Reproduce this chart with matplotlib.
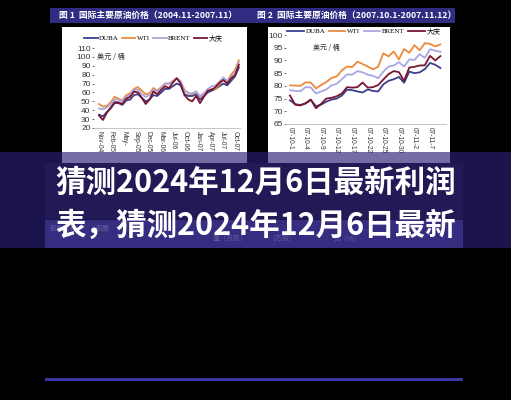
import numpy as np
import matplotlib
matplotlib.use("Agg")
import matplotlib.pyplot as plt
from matplotlib.patches import Rectangle

# ---------------- data ----------------
# Figure 1: monthly crude prices, Nov 2004 - Nov 2007 (USD / barrel)
months1 = list(range(37))
wti1 = [47, 44, 45, 49, 55, 53, 51, 57, 59, 64, 66, 62, 58, 59, 65, 62, 66, 70, 70,
        73, 76, 72, 63, 59, 58, 61, 55, 59, 62, 64, 64, 69, 75, 72, 80, 85, 96]
brent1 = [42, 41, 43, 47, 52, 52, 50, 55, 57, 63, 63, 58, 55, 57, 63, 61, 65, 70, 70,
          72, 76, 73, 62, 59, 59, 61, 56, 59, 64, 67, 68, 72, 77, 73, 77, 82, 93]
dubai1 = [35, 33, 38, 42, 48, 48, 46, 51, 52, 57, 58, 54, 50, 52, 57, 56, 60, 64, 64,
          67, 70, 68, 58, 56, 56, 58, 52, 56, 60, 62, 64, 67, 70, 68, 73, 78, 88]
daqing1 = [34, 29, 37, 43, 49, 49, 47, 53, 55, 61, 60, 54, 47, 52, 61, 58, 63, 67, 65,
           71, 76, 70, 57, 52, 50, 56, 48, 55, 62, 63, 66, 71, 74, 70, 76, 79, 91]
xlabels1 = ["Nov-04", "Feb-05", "May-", "Sep-05", "Dec-05", "Mar-06", "Jul-06",
            "Oct-06", "Jan-07", "Apr-07", "Jul-07", "Oct-07"]

# Figure 2: daily crude prices, 2007-10-01 onward (trading days)
days2 = list(range(30))
wti2 = [80.2, 80.1, 80.0, 81.4, 81.3, 79.0, 80.3, 81.5, 83.1, 83.7, 86.1, 87.6, 87.4,
        89.5, 88.6, 87.6, 86.5, 87.5, 92.8, 91.6, 93.5, 90.4, 94.5, 93.0, 96.0, 94.0,
        96.8, 96.5, 95.5, 96.3]
brent2 = [78.3, 78.0, 77.9, 79.5, 79.4, 77.0, 77.8, 78.6, 80.2, 80.8, 82.6, 84.5, 84.4,
          85.8, 85.3, 84.4, 84.0, 83.0, 85.6, 87.6, 88.0, 89.3, 87.6, 90.4, 90.2, 92.5,
          91.0, 94.4, 93.8, 93.4]
dubai2 = [74.3, 72.8, 72.5, 73.0, 74.5, 72.0, 72.6, 73.8, 74.6, 75.0, 76.2, 78.5, 78.3,
          77.8, 77.4, 78.6, 78.0, 77.8, 80.6, 82.0, 82.6, 83.5, 81.2, 85.6, 85.0, 85.3,
          86.6, 89.0, 88.3, 87.0]
daqing2 = [76.2, 72.6, 72.3, 73.2, 74.6, 71.2, 72.9, 75.0, 75.3, 75.9, 77.0, 79.5, 79.3,
           79.5, 81.3, 79.3, 79.5, 80.3, 82.5, 84.6, 85.8, 85.4, 82.0, 87.2, 87.5, 88.0,
           88.1, 91.8, 90.0, 91.7]
xlabels2 = ["07-10-1", "07-10-4", "07-10-9", "07-10-12", "07-10-17", "07-10-22",
            "07-10-25", "07-10-30", "07-11-2", "07-11-7"]

series_names = ["DUBA", "WTI", "BRENT", "大庆"]
series_colors = ["#3c3f8c", "#ec8a3c", "#aaa6e4", "#7a1630"]

title_text = "猜测2024年12月6日最新利润\n表，猜测2024年12月6日最新"
header1 = "图 1  国际主要原油价格（2004.11-2007.11）"
header2 = "图 2  国际主要原油价格（2007.10.1-2007.11.12）"
unit_text = "美元 / 桶"

# ---------------- layout helpers ----------------
W, H = 511, 400
CJK = ["Noto Sans CJK SC", "DejaVu Sans"]
SANS = ["Liberation Sans", "Noto Sans CJK SC"]
SERIF = ["Liberation Serif", "Noto Sans CJK SC"]

fig = plt.figure(figsize=(W / 100, H / 100), dpi=100)
fig.patch.set_facecolor("black")


def box(x0, y0, x1, y1):
    """pixel box (origin top-left) -> figure-fraction rect"""
    return [x0 / W, 1 - y1 / H, (x1 - x0) / W, (y1 - y0) / H]


bg = fig.add_axes([0, 0, 1, 1], zorder=0)
bg.set_xlim(0, W)
bg.set_ylim(H, 0)
bg.axis("off")

# document pieces: header bar, white chart panels, table strip, bottom rule
bg.add_patch(Rectangle((50, 8), 405, 15, color="#2f2c82", lw=0))
bg.add_patch(Rectangle((62, 27), 185, 136, color="white", lw=0))
bg.add_patch(Rectangle((268, 27), 182, 136, color="white", lw=0))
bg.add_patch(Rectangle((45, 163), 418, 56, color="#10101c", lw=0))
bg.add_patch(Rectangle((45, 220), 418, 28, color="#4a4898", lw=0))
bg.add_patch(Rectangle((45, 378), 418, 2.5, color="#3a36a2", lw=0))

bg.text(59, 15.5, header1, color="white", fontsize=6.3, fontweight="bold",
        family=CJK, va="center", ha="left")
bg.text(257, 15.5, header2, color="white", fontsize=6.3, fontweight="bold",
        family=CJK, va="center", ha="left")

# faint table header row lying beneath the title band
for s, x, y in [("股东名称", 50, 229), ("股票", 96, 229), ("量（万股）", 213, 238),
                ("（万股）", 268, 238), ("比（%）", 333, 238)]:
    bg.text(x, y, s, color="#c8c4e8", fontsize=5, family=CJK, va="center", ha="left")


def style_axis(ax, ylo, yhi, ystep, ticks, labels):
    ax.set_facecolor("none")
    ax.set_ylim(ylo, yhi)
    ax.set_yticks(np.arange(ylo, yhi + 0.1, ystep))
    ax.set_xticks(ticks)
    ax.set_xticklabels(labels, rotation=270, fontsize=4.8, family=SANS, color="#333333")
    ax.tick_params(axis="y", labelsize=6, colors="#333333", length=1.5, width=0.5,
                   pad=1)
    ax.tick_params(axis="x", length=0, pad=2)
    for lab in ax.get_yticklabels():
        lab.set_family(SANS)
    for sp in ("top", "right", "left"):
        ax.spines[sp].set_visible(False)
    ax.spines["bottom"].set_color("#bbbbbb")
    ax.spines["bottom"].set_linewidth(0.6)


# ---------------- chart 1 ----------------
ax1 = fig.add_axes(box(94, 48, 240, 128), zorder=2)
for vals, name, col in zip([dubai1, wti1, brent1, daqing1], series_names, series_colors):
    ax1.plot(months1, vals, color=col, lw=1.3, label=name)
ax1.set_xlim(-1.3, 36.3)
style_axis(ax1, 20, 110, 10, np.linspace(0, 35, len(xlabels1)), xlabels1)
ax1.legend(loc="center left", bbox_to_anchor=(-0.085, 1.125), ncol=4, frameon=False,
           handlelength=1.9, handletextpad=0.25, columnspacing=0.45,
           borderaxespad=0, prop={"family": SERIF, "size": 5})
bg.text(97, 57, unit_text, fontsize=5.2, family=CJK, color="#333333", va="center")

# ---------------- chart 2 ----------------
ax2 = fig.add_axes(box(286, 35, 446, 124), zorder=2)
for vals, name, col in zip([dubai2, wti2, brent2, daqing2], series_names, series_colors):
    ax2.plot(days2, vals, color=col, lw=1.3, label=name)
ax2.set_xlim(-0.77, 30.08)
style_axis(ax2, 65, 100, 5, np.arange(0, 28, 3), xlabels2)
ax2.legend(loc="center left", bbox_to_anchor=(-0.01, 1.045), ncol=4, frameon=False,
           handlelength=2.4, handletextpad=0.25, columnspacing=0.5, borderaxespad=0,
           prop={"family": SERIF, "size": 5})
bg.text(313, 48, unit_text, fontsize=5, family=CJK, color="#333333", va="center")

# ---------------- translucent title band ----------------
ov = fig.add_axes([0, 0, 1, 1], zorder=10)
ov.set_xlim(0, W)
ov.set_ylim(H, 0)
ov.axis("off")
ov.set_facecolor("none")
ov.add_patch(Rectangle((0, 152), W, 96, color=(44 / 255, 32 / 255, 118 / 255),
                       alpha=0.66, lw=0))
ov.text(256, 204, title_text, color="white", fontsize=22, fontweight="heavy",
        family=CJK, ha="center", va="center", linespacing=1.45)

fig.savefig("out.png", dpi=100, facecolor=fig.get_facecolor())
